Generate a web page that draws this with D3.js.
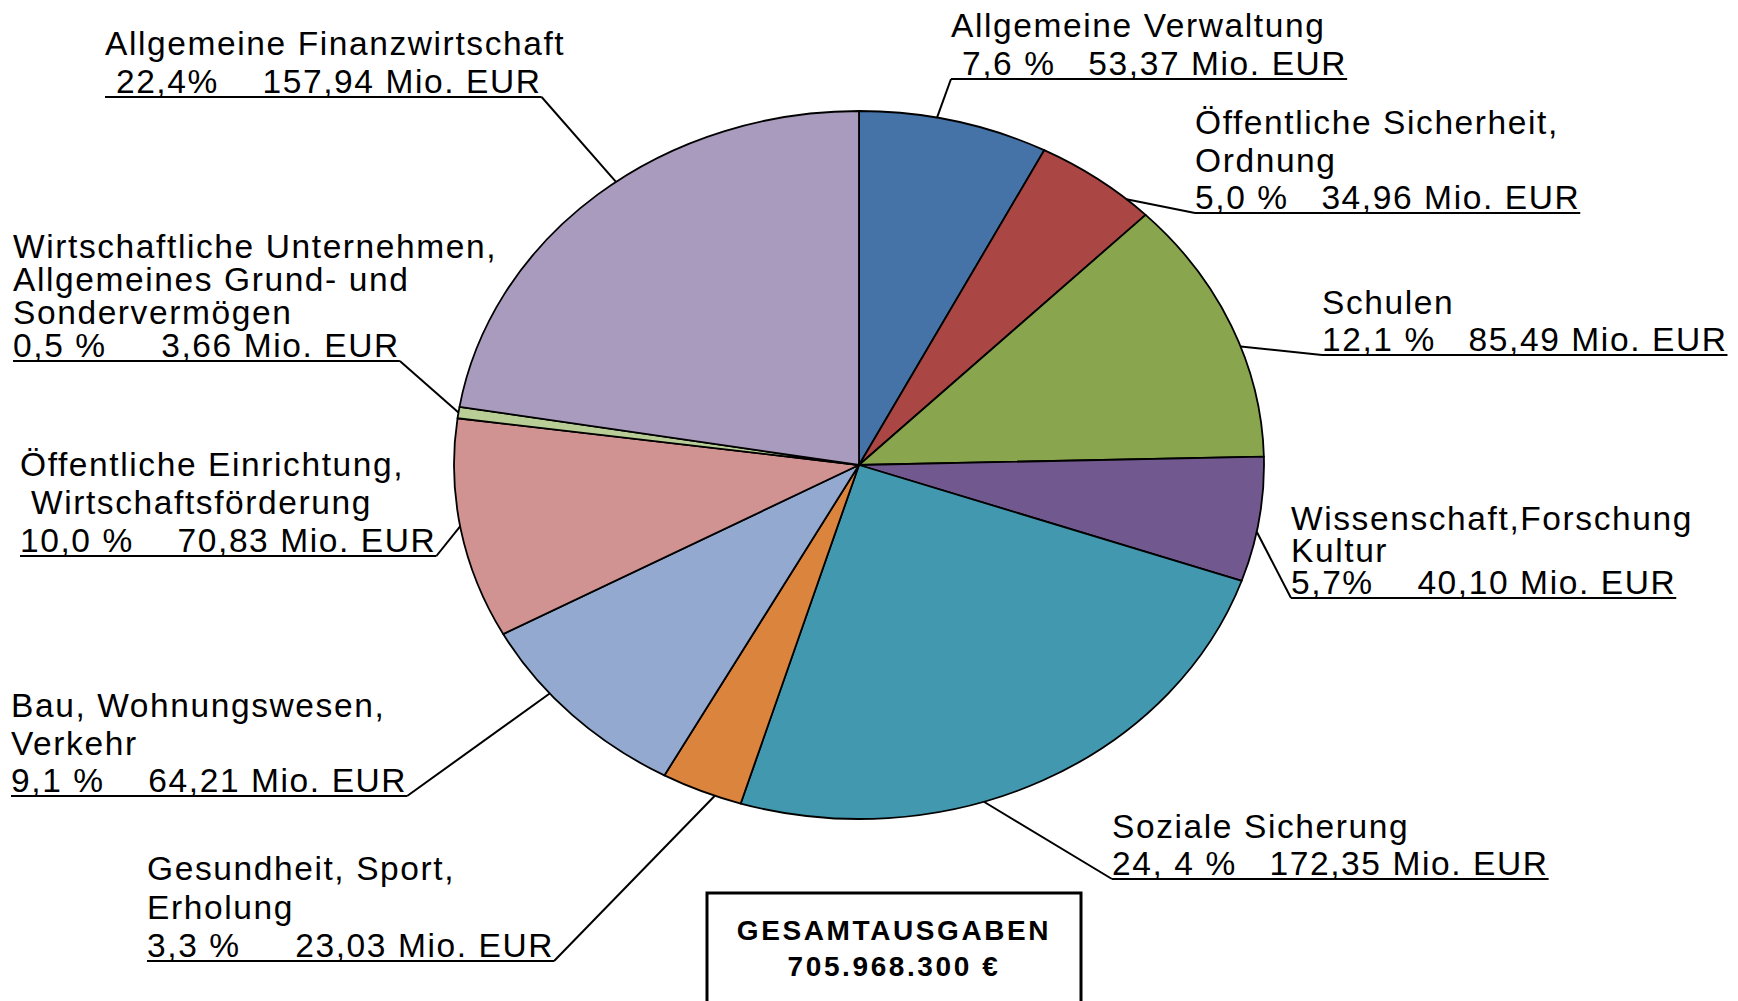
<!DOCTYPE html>
<html>
<head>
<meta charset="utf-8">
<script src="https://cdn.jsdelivr.net/npm/d3@7/dist/d3.min.js"></script>
<style>
  html, body { margin: 0; padding: 0; background: #ffffff; }
  svg { display: block; }
  text { font-family: "Liberation Sans", Arial, sans-serif; white-space: pre; fill: #000; }
</style>
</head>
<body>
<svg id="chart" width="1738" height="1001"></svg>
<script>
// ---------------- DATA ----------------
const categories = [
  "Allgemeine Verwaltung",
  "Öffentliche Sicherheit, Ordnung",
  "Schulen",
  "Wissenschaft, Forschung, Kultur",
  "Soziale Sicherung",
  "Gesundheit, Sport, Erholung",
  "Bau, Wohnungswesen, Verkehr",
  "Öffentliche Einrichtung, Wirtschaftsförderung",
  "Wirtschaftliche Unternehmen, Allgemeines Grund- und Sondervermögen",
  "Allgemeine Finanzwirtschaft"
];
const valuesMioEUR = [53.37, 34.96, 85.49, 40.10, 172.35, 23.03, 64.21, 70.83, 3.66, 157.94];
const sliceColors = ["#4572A7", "#AA4643", "#89A54E", "#71588F", "#4198AF",
                     "#DB843D", "#93A9CF", "#D19392", "#B9CD96", "#A99BBD"];
const labelLines = [
  ["Allgemeine Verwaltung", " 7,6 %   53,37 Mio. EUR"],
  ["Öffentliche Sicherheit,", "Ordnung", "5,0 %   34,96 Mio. EUR"],
  ["Schulen", "12,1 %   85,49 Mio. EUR"],
  ["Wissenschaft,Forschung", "Kultur", "5,7%    40,10 Mio. EUR"],
  ["Soziale Sicherung", "24, 4 %   172,35 Mio. EUR"],
  ["Gesundheit, Sport,", "Erholung", "3,3 %     23,03 Mio. EUR"],
  ["Bau, Wohnungswesen,", "Verkehr", "9,1 %    64,21 Mio. EUR"],
  ["Öffentliche Einrichtung,", " Wirtschaftsförderung", "10,0 %    70,83 Mio. EUR"],
  ["Wirtschaftliche Unternehmen,", "Allgemeines Grund- und", "Sondervermögen", "0,5 %     3,66 Mio. EUR"],
  ["Allgemeine Finanzwirtschaft", " 22,4%    157,94 Mio. EUR"]
];
const totalLines = ["GESAMTAUSGABEN", "705.968.300 €"];

// ---------------- LAYOUT ----------------
const cx = 859, cy = 465, rx = 405, ry = 354, R = 100;
// label placement: left x, first baseline, line height
const labelX  = [951, 1195, 1322, 1291, 1112, 147, 11, 20, 13, 105];
const labelY0 = [37, 134, 314, 530, 838, 880, 717, 476, 258, 55];
const labelLH = [38, 37.5, 37, 32, 37, 38.5, 37.5, 38, 33, 38];
const leaderShiftDeg = [-2.5, 5.2, 3.6, 2, 9, -2, 4.7, 0.5, 0, 3.4];

const svg = d3.select("#chart");

const pie = d3.pie().sort(null).value(d => d)(valuesMioEUR);
const arc = d3.arc().innerRadius(0).outerRadius(R);

const pieG = svg.append("g")
  .attr("transform", `translate(${cx},${cy}) scale(${rx / R},${ry / R})`);

pieG.selectAll("path.slice")
  .data(pie)
  .join("path")
  .attr("class", "slice")
  .attr("d", arc)
  .attr("fill", (d, i) => sliceColors[i])
  .attr("stroke", "#000")
  .attr("stroke-width", 1.8)
  .attr("stroke-linejoin", "round")
  .attr("vector-effect", "non-scaling-stroke");

// labels
const labG = svg.append("g");
pie.forEach((d, i) => {
  const g = labG.append("g");
  const lines = labelLines[i];
  const t = g.append("text")
    .attr("font-size", 33.5)
    .attr("letter-spacing", 1.6);
  lines.forEach((ln, k) => {
    t.append("tspan")
      .attr("x", labelX[i])
      .attr("y", labelY0[i] + k * labelLH[i])
      .text(ln);
  });
  // underline of last line
  const lastTs = t.selectAll("tspan").nodes()[lines.length - 1];
  const w = lastTs.getComputedTextLength();
  const uy = labelY0[i] + (lines.length - 1) * labelLH[i] + 4;
  const ux0 = labelX[i], ux1 = labelX[i] + w;
  g.append("line")
    .attr("x1", ux0).attr("x2", ux1).attr("y1", uy).attr("y2", uy)
    .attr("stroke", "#000").attr("stroke-width", 2);
  // leader line
  const a = (d.startAngle + d.endAngle) / 2 + leaderShiftDeg[i] * Math.PI / 180;
  const px = cx + rx * Math.sin(a), py = cy - ry * Math.cos(a);
  const sx = (labelX[i] < cx - 100) ? ux1 : ux0;
  g.append("line")
    .attr("x1", sx).attr("y1", uy).attr("x2", px).attr("y2", py)
    .attr("stroke", "#000").attr("stroke-width", 2);
});

// total box
const box = svg.append("g");
box.append("rect")
  .attr("x", 707).attr("y", 893).attr("width", 374).attr("height", 140)
  .attr("fill", "#fff").attr("stroke", "#000").attr("stroke-width", 3);
box.selectAll("text.total")
  .data(totalLines)
  .join("text")
  .attr("class", "total")
  .attr("x", 894)
  .attr("y", (d, k) => 940 + k * 36)
  .attr("text-anchor", "middle")
  .attr("font-size", 28)
  .attr("font-weight", "bold")
  .attr("letter-spacing", 2.6)
  .text(d => d);
</script>
</body>
</html>
